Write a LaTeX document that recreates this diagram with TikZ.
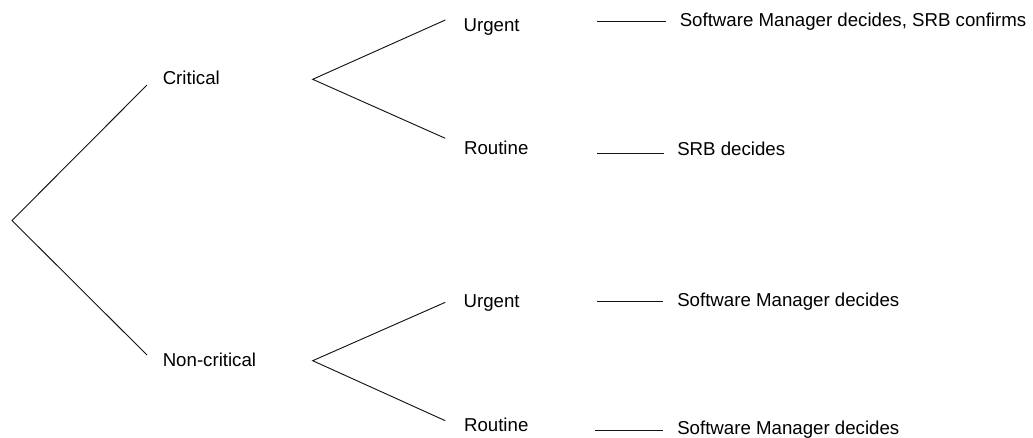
\documentclass[tikz,border=0pt]{standalone}
\usepackage{fontspec}
\setmainfont{Liberation Sans}
\usetikzlibrary{positioning}
\tikzset{
  lbl/.style={anchor=base west,inner sep=0pt,font=\fontsize{14}{17}\selectfont},
  branch/.style={line width=0.7pt,color={rgb, 255:red, 20; green, 20; blue, 20 }}
}
\begin{document}
\begin{tikzpicture}[x=0.75pt,y=0.75pt,yscale=-1,xscale=1]
\useasboundingbox (0,0) rectangle (1033,437);

%Coordinates: forks and line ends
\coordinate (root) at (12,220.5);
\coordinate (critend) at (147,85);
\coordinate (noncend) at (147,355);
\coordinate (critfork) at (312.7,79.3);
\coordinate (noncfork) at (312.7,360.7);
\coordinate (urgAend) at (445.3,20);
\coordinate (rouAend) at (445.3,138.3);
\coordinate (urgBend) at (445.3,302.3);
\coordinate (rouBend) at (445.3,420.7);
\coordinate (urgAl) at (597,21);
\coordinate (urgAr) at (666,21);
\coordinate (rouAl) at (597,153.3);
\coordinate (rouAr) at (664,153.3);
\coordinate (urgBl) at (597,301.7);
\coordinate (urgBr) at (663,301.7);
\coordinate (rouBl) at (595,430);
\coordinate (rouBr) at (663,430);

%Text nodes
\node [lbl] (crit) at (162.5,84) {Critical};
\node [lbl] (nonc) at (162.5,366) {Non-critical};
\node [lbl] (urgA) at (463.3,31) {Urgent};
\node [lbl] (rouA) at (463.8,154.3) {Routine};
\node [lbl] (urgB) at (463.3,307) {Urgent};
\node [lbl] (rouB) at (463.8,431.7) {Routine};
\node [lbl] (decA) at (679.5,26.7) {Software Manager decides, SRB confirms};
\node [lbl] (decB) at (677,155) {SRB decides};
\node [lbl] (decC) at (677,306.7) {Software Manager decides};
\node [lbl] (decD) at (677,434.3) {Software Manager decides};

%Straight Lines
\draw [branch] (critend) -- (root) -- (noncend);
\draw [branch] (urgAend) -- (critfork) -- (rouAend);
\draw [branch] (urgBend) -- (noncfork) -- (rouBend);
\draw [branch] (urgAl) -- (urgAr);
\draw [branch] (rouAl) -- (rouAr);
\draw [branch] (urgBl) -- (urgBr);
\draw [branch] (rouBl) -- (rouBr);

\end{tikzpicture}
\end{document}
